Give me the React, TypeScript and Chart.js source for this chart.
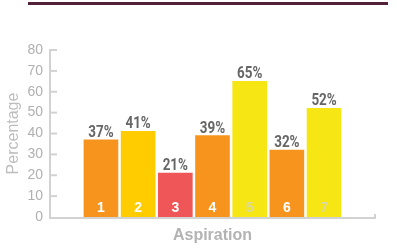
import React, { useEffect, useRef } from "react";
import { Chart, registerables } from "chart.js";

Chart.register(...registerables);

const categories = ["1", "2", "3", "4", "5", "6", "7"];
const values = [37, 41, 21, 39, 65, 32, 52];
const barColors = ["#F7941D", "#FFCC00", "#EF5657", "#F7941D", "#F5E614", "#F7941D", "#F5E614"];
const innerLabelColors = ["#ffffff", "#ffffff", "#ffffff", "#ffffff", "#dadaa0", "#ffffff", "#dadaa0"];
const yTicks = [0, 10, 20, 30, 40, 50, 60, 70, 80];
const yTitle = "Percentage";
const xTitle = "Aspiration";

const axisColor = "#d2d2d2";

const decorPlugin = {
  id: "decor",
  afterDatasetsDraw(chart: any) {
    const { ctx, chartArea, scales } = chart;
    const y = scales.y;
    const { left, right, bottom } = chartArea;
    ctx.save();
    ctx.fillStyle = axisColor;
    const topPx = y.getPixelForValue(yTicks[yTicks.length - 1]);
    ctx.fillRect(left - 1, topPx - 1, 2, bottom - topPx + 3);
    yTicks.forEach((v) => {
      const py = y.getPixelForValue(v);
      if (v !== 0) ctx.fillRect(left - 1, py - 1, 8, 2);
    });
    ctx.fillRect(left - 1, bottom, right - left + 2, 2);
    ctx.fillRect(right - 1, bottom - 3, 2, 5);

    const meta = chart.getDatasetMeta(0);
    meta.data.forEach((bar: any, i: number) => {
      ctx.save();
      ctx.fillStyle = "#666666";
      ctx.font = "bold 16px Roboto";
      ctx.textAlign = "center";
      ctx.textBaseline = "alphabetic";
      ctx.translate(bar.x, bar.y - 3);
      ctx.scale(0.84, 1.03);
      ctx.fillText(values[i] + "%", 0, 0);
      ctx.restore();
      ctx.fillStyle = innerLabelColors[i];
      ctx.font = "bold 14px 'Liberation Sans'";
      ctx.textAlign = "center";
      ctx.textBaseline = "middle";
      ctx.fillText(categories[i], bar.x, bottom - 9);
    });
    ctx.restore();
  },
};

export default function App() {
  const ref = useRef<HTMLCanvasElement>(null);
  useEffect(() => {
    if (!ref.current) return;
    const chart = new Chart(ref.current, {
      type: "bar",
      data: {
        datasets: [
          {
            data: values.map((v, i) => ({ x: i + 1, y: v })),
            backgroundColor: barColors,
            borderWidth: 0,
            barThickness: 34,
          },
        ],
      },
      options: {
        animation: false,
        responsive: false,
        layout: { padding: { top: 50, right: 22, left: 0, bottom: 0 } },
        plugins: { legend: { display: false }, tooltip: { enabled: false } },
        scales: {
          x: {
            type: "linear",
            offset: false,
            min: -0.37,
            max: 8.37,
            grid: { display: false, drawTicks: false },
            border: { display: false },
            ticks: { display: false },
            title: {
              display: true,
              text: xTitle,
              color: "#b3b3b3",
              font: { family: "'Liberation Sans'", size: 16, weight: "bold" },
              padding: { top: 0, bottom: 4 },
            },
            afterFit: (s: any) => {
              s.height = 32;
            },
          },
          y: {
            min: 0,
            max: 80,
            grid: { display: false, drawTicks: false },
            border: { display: false },
            ticks: {
              stepSize: 10,
              padding: 7,
              color: "#b0b0b0",
              font: { family: "'Liberation Sans'", size: 14 },
            },
            title: {
              display: true,
              text: yTitle,
              color: "#bdbdbd",
              font: { family: "'Liberation Sans'", size: 16 },
              padding: { top: 4, bottom: 0 },
            },
            afterFit: (s: any) => {
              s.width = 50;
            },
          },
        },
      },
      plugins: [decorPlugin],
    } as any);
    return () => chart.destroy();
  }, []);
  return (
    <div style={{ position: "absolute", left: 0, top: 0, width: 397, height: 249, background: "#fff" }}>
      <div style={{ position: "absolute", left: 28, top: 2, width: 360, height: 3, background: "#52213a" }} />
      <canvas ref={ref} width={397} height={249} style={{ display: "block" }} />
    </div>
  );
}
